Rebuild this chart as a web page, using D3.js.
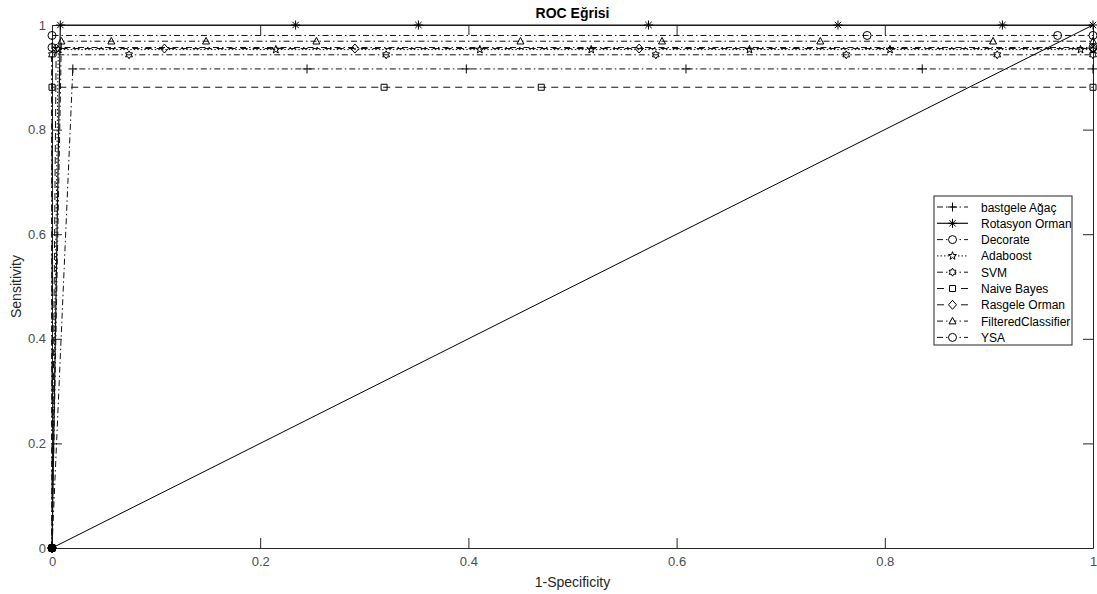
<!DOCTYPE html>
<html>
<head>
<meta charset="utf-8">
<script src="https://cdn.jsdelivr.net/npm/d3@7"></script>
<style>
  body { margin: 0; background: #fff; }
  svg text { font-family: "Liberation Sans", Arial, sans-serif; }
  .axis path, .axis line { stroke: #262626; }
  .axis text { fill: #4d4d4d; font-size: 13px; }
</style>
</head>
<body>
<script>
/*** DATA ***/
let names = ["bastgele Ağaç", "Rotasyon Orman", "Decorate", "Adaboost", "SVM",
  "Naive Bayes", "Rasgele Orman", "FilteredClassifier", "YSA"];

let agacFpr = [0, 0.020, 0.245, 0.398, 0.609, 0.836, 1];
let agacTpr = [0, 0.916, 0.916, 0.916, 0.916, 0.916, 0.916];

let rotasyonFpr = [0, 0.008, 0.234, 0.352, 0.573, 0.755, 0.913, 1];
let rotasyonTpr = [0, 1, 1, 1, 1, 1, 1, 1];

let decorateFpr = [0, 0, 1];
let decorateTpr = [0, 0.957, 0.957];

let adaboostFpr = [0, 0.006, 0.215, 0.411, 0.518, 0.670, 0.805, 0.988, 1];
let adaboostTpr = [0, 0.953, 0.953, 0.953, 0.953, 0.953, 0.953, 0.953, 0.953];

let svmFpr = [0, 0, 0.074, 0.321, 0.580, 0.763, 0.908, 1];
let svmTpr = [0, 0.943, 0.943, 0.943, 0.943, 0.943, 0.943, 0.943];

let bayesFpr = [0, 0, 0.319, 0.470, 1];
let bayesTpr = [0, 0.881, 0.881, 0.881, 0.881];

let rasgeleFpr = [0, 0.004, 0.108, 0.291, 0.564, 1];
let rasgeleTpr = [0, 0.955, 0.955, 0.955, 0.955, 0.955];

let filteredFpr = [0, 0.009, 0.057, 0.148, 0.254, 0.450, 0.586, 0.738, 0.904, 1];
let filteredTpr = [0, 0.969, 0.969, 0.969, 0.969, 0.969, 0.969, 0.969, 0.969, 0.969];

let ysaFpr = [0, 0, 0.783, 0.966, 1];
let ysaTpr = [0, 0.980, 0.980, 0.980, 0.980];

let diagFpr = [0, 1];
let diagTpr = [0, 1];

let xTicks = [0, 0.2, 0.4, 0.6, 0.8, 1];
let yTicks = [0, 0.2, 0.4, 0.6, 0.8, 1];

/* styles : line dash + marker per series */
let dashes = ["6,3,1.5,3", null, "6,3,1.5,3", "1.5,2", "6,3,1.5,3", "7,5", "7,5", "6,3,1.5,3", "6,3,1.5,3"];
let markers = ["plus", "asterisk", "circle", "star", "hexagram", "square", "diamond", "triangle", "circle"];

let series = [
  [agacFpr, agacTpr], [rotasyonFpr, rotasyonTpr], [decorateFpr, decorateTpr],
  [adaboostFpr, adaboostTpr], [svmFpr, svmTpr], [bayesFpr, bayesTpr],
  [rasgeleFpr, rasgeleTpr], [filteredFpr, filteredTpr], [ysaFpr, ysaTpr]
].map((s, i) => ({
  name: names[i], dash: dashes[i], marker: markers[i],
  points: s[0].map((v, j) => [v, s[1][j]])
}));

/*** GRAPH ***/
let margin = { top: 25, right: 4, bottom: 46, left: 52 },
  W = 1097, H = 594,
  width = W - margin.left - margin.right,
  height = H - margin.top - margin.bottom;

let x = d3.scaleLinear().domain([0, 1]).range([0, width]);
let y = d3.scaleLinear().domain([0, 1]).range([height, 0]);

let fmt = (d) => String(+d.toFixed(1));

let svg = d3.select("body").append("svg")
  .attr("width", W)
  .attr("height", H);

let g = svg.append("g")
  .attr("transform", "translate(" + margin.left + "," + margin.top + ")");

/* marker shapes */
function markerPath(type) {
  let p = d3.path();
  if (type == "plus") {
    p.moveTo(-4.5, 0); p.lineTo(4.5, 0); p.moveTo(0, -4.5); p.lineTo(0, 4.5);
  } else if (type == "asterisk") {
    p.moveTo(-4.5, 0); p.lineTo(4.5, 0); p.moveTo(0, -4.5); p.lineTo(0, 4.5);
    p.moveTo(-3.2, -3.2); p.lineTo(3.2, 3.2); p.moveTo(-3.2, 3.2); p.lineTo(3.2, -3.2);
  } else if (type == "circle") {
    p.arc(0, 0, 4, 0, 2 * Math.PI);
  } else if (type == "square") {
    p.rect(-3, -3, 6, 6);
  } else if (type == "diamond") {
    p.moveTo(0, -4.5); p.lineTo(4, 0); p.lineTo(0, 4.5); p.lineTo(-4, 0); p.closePath();
  } else if (type == "triangle") {
    p.moveTo(0, -3.8); p.lineTo(3.5, 2.8); p.lineTo(-3.5, 2.8); p.closePath();
  } else if (type == "star") {
    for (let k = 0; k < 10; k++) {
      let r = k % 2 ? 1.7 : 4.2, a = -Math.PI / 2 + k * Math.PI / 5;
      if (k == 0) p.moveTo(r * Math.cos(a), r * Math.sin(a));
      else p.lineTo(r * Math.cos(a), r * Math.sin(a));
    }
    p.closePath();
  } else if (type == "hexagram") {
    for (let k = 0; k < 12; k++) {
      let r = k % 2 ? 2.3 : 4, a = -Math.PI / 2 + k * Math.PI / 6;
      if (k == 0) p.moveTo(r * Math.cos(a), r * Math.sin(a));
      else p.lineTo(r * Math.cos(a), r * Math.sin(a));
    }
    p.closePath();
  }
  return p.toString();
}

/* axes (ticks inside, box like matlab) */
g.append("g").attr("class", "axis")
  .attr("transform", "translate(0," + height + ")")
  .call(d3.axisBottom(x).tickValues(xTicks).tickFormat(fmt).tickSizeInner(-10).tickSizeOuter(0).tickPadding(9));
g.append("g").attr("class", "axis")
  .call(d3.axisTop(x).tickValues(xTicks).tickFormat("").tickSizeInner(-10).tickSizeOuter(0));
g.append("g").attr("class", "axis")
  .call(d3.axisLeft(y).tickValues(yTicks).tickFormat(fmt).tickSizeInner(-10).tickSizeOuter(0).tickPadding(6));
g.append("g").attr("class", "axis")
  .attr("transform", "translate(" + width + ",0)")
  .call(d3.axisRight(y).tickValues(yTicks).tickFormat("").tickSizeInner(-10).tickSizeOuter(0));
g.selectAll(".axis text").attr("font-family", null);

let line = d3.line().x((d) => x(d[0])).y((d) => y(d[1]));

/* diagonale */
g.append("path")
  .datum(diagFpr.map((v, j) => [v, diagTpr[j]]))
  .attr("d", line)
  .attr("fill", "none")
  .attr("stroke", "#000")
  .attr("stroke-width", 1);

/* courbes */
series.forEach((s) => {
  g.append("path")
    .datum(s.points)
    .attr("d", line)
    .attr("fill", "none")
    .attr("stroke", "#111")
    .attr("stroke-width", s.dash ? 1 : 1.2)
    .attr("stroke-dasharray", s.dash);

  g.selectAll(null)
    .data(s.points)
    .enter().append("path")
    .attr("transform", (d) => "translate(" + x(d[0]) + "," + y(d[1]) + ")")
    .attr("d", markerPath(s.marker))
    .attr("fill", (d) => d[0] == 0 && d[1] == 0 ? "#000" : "none")
    .attr("stroke", "#000")
    .attr("stroke-width", 1);
});

/* titres */
svg.append("text")
  .attr("x", margin.left + width / 2)
  .attr("y", 18)
  .attr("text-anchor", "middle")
  .style("font-size", "14px")
  .style("font-weight", "bold")
  .text("ROC Eğrisi");

svg.append("text")
  .attr("x", margin.left + width / 2)
  .attr("y", 587)
  .attr("text-anchor", "middle")
  .style("font-size", "14px")
  .attr("fill", "#262626")
  .text("1-Specificity");

svg.append("text")
  .attr("transform", "translate(21," + (margin.top + height / 2) + ") rotate(-90)")
  .attr("text-anchor", "middle")
  .style("font-size", "14px")
  .attr("fill", "#262626")
  .text("Sensitivity");

/* légende */
let lg = svg.append("g").attr("transform", "translate(934,196)");
lg.append("rect")
  .attr("width", 138)
  .attr("height", 149)
  .attr("fill", "#fff")
  .attr("stroke", "#262626")
  .attr("stroke-width", 1);

let item = lg.selectAll(".legend")
  .data(series)
  .enter().append("g")
  .attr("class", "legend")
  .attr("transform", (d, i) => "translate(0," + (11 + i * 16.3) + ")");

item.append("line")
  .attr("x1", 3).attr("x2", 34)
  .attr("stroke", "#111")
  .attr("stroke-width", (d) => d.dash ? 1 : 1.2)
  .attr("stroke-dasharray", (d) => d.dash);

item.append("path")
  .attr("transform", "translate(18.5,0)")
  .attr("d", (d) => markerPath(d.marker))
  .attr("fill", "#fff")
  .attr("stroke", "#000");

item.append("text")
  .attr("x", 47)
  .attr("y", 4.5)
  .style("font-size", "12px")
  .text((d) => d.name);
</script>
</body>
</html>
